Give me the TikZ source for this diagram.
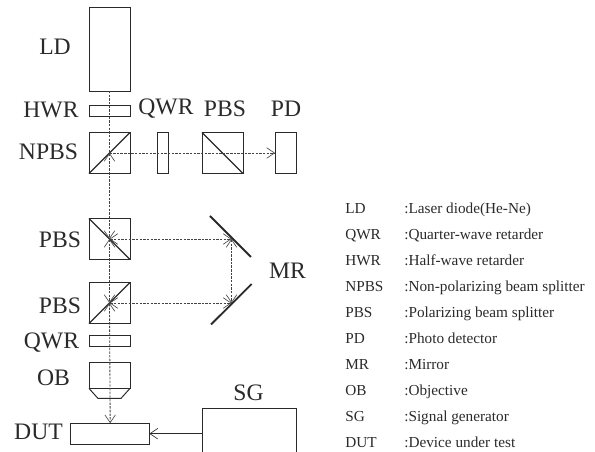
\documentclass[tikz,border=0pt]{standalone}
\usepackage{fontspec}
\setmainfont{Liberation Serif}
\usetikzlibrary{arrows.meta, positioning, calc}
\definecolor{lineDark}{HTML}{2A2A2A}
\definecolor{beamGray}{HTML}{444444}

\begin{document}
\begin{tikzpicture}[
    x=0.025cm, y=-0.025cm,
    part/.style={rectangle, draw=lineDark, line width=0.7pt, inner sep=0pt, outer sep=0pt},
    cube/.style={part, minimum size=1.025cm},
    plate/.style={part, minimum width=1.025cm, minimum height=0.275cm},
    label/.style={font=\fontsize{16.8}{18}\selectfont, text=lineDark, inner sep=0pt},
    legend/.style={font=\fontsize{10.85}{13}\selectfont, text=lineDark, inner sep=0pt, anchor=base west},
    beam/.style={dash pattern=on 1.7pt off 0.9pt, line width=0.6pt, draw=beamGray},
    tip/.style={-{Straight Barb[length=5.5pt, width=7.5pt, line width=0.45pt]}},
    tips/.style={{Straight Barb[length=5.5pt, width=7.5pt, line width=0.45pt]}-{Straight Barb[length=5.5pt, width=7.5pt, line width=0.45pt]}},
    split/.style={line width=0.8pt, draw=lineDark},
    mirror/.style={line width=1.3pt, draw=lineDark},
  ]
    \clip (0,0) rectangle (595,452);

    % ─── Source arm ───
    \node[part, minimum width=1.025cm, minimum height=2.075cm] (ld) at (109.5,49.5) {};
    \node[plate] (hwr) at (109.5,111) {};
    \node[cube] (npbs) at (109.5,153) {};
    \draw[split] (npbs.south west) -- (npbs.north east);

    % ─── Detector arm ───
    \node[part, minimum width=0.275cm, minimum height=1.025cm] (qwrtop) at (162.5,153) {};
    \node[cube] (pbstop) at (222.5,153) {};
    \draw[split] (pbstop.north west) -- (pbstop.south east);
    \node[part, minimum width=0.525cm, minimum height=1.025cm] (pd) at (285.5,153) {};

    % ─── Interferometer ───
    \node[cube] (pbsup) at (109.5,239) {};
    \draw[split] (pbsup.north west) -- (pbsup.south east);
    \node[cube] (pbslow) at (109.5,303) {};
    \draw[split] (pbslow.south west) -- (pbslow.north east);
    \coordinate (mrup) at (231.5,239);
    \coordinate (mrlow) at (231.5,303);
    \draw[mirror] (210,216) -- (251,257);
    \draw[mirror] (211,324.5) -- (251.7,284);

    % ─── Objective and sample ───
    \node[plate] (qwrlow) at (109.5,341) {};
    \node[part, minimum width=1.025cm, minimum height=0.66cm] (ob) at (109.5,375.2) {};
    \draw[part] (ob.south west) -- ++(9,10) -- ++(23,0) -- (ob.south east);
    \node[part, minimum width=1.96cm, minimum height=0.525cm] (dut) at (110.2,433.7) {};
    \node[part, minimum width=2.325cm, minimum height=1.27cm] (sg) at (249.5,433.7) {};

    % ─── Beams ───
    \draw[beam] (ld.south) -- (npbs.center);
    \draw[beam, tip] (npbs.center) -- (pd.west);
    \draw[beam, tips] (npbs.center) -- (pbsup.center);
    \draw[beam, tips] (pbsup.center) -- (pbslow.center);
    \draw[beam, tips] (pbsup.center) -- (mrup);
    \draw[beam, tips] (pbslow.center) -- (mrlow);
    \draw[beam, tips] (mrup) -- (mrlow);
    \draw[beam, tips] (pbslow.center) -- (dut.north);
    \draw[line width=0.6pt, draw=lineDark, tip] (sg.west) -- (dut.east);

    % ─── Part labels ───
    \node[label] (ldlabel) at (55,47) {LD};
    \node[label] (hwrlabel) at (51,110) {HWR};
    \node[label] (qwrtoplabel) at (166,109) {QWR};
    \node[label] (pbstoplabel) at (225,109) {PBS};
    \node[label] (pdlabel) at (286,109) {PD};
    \node[label] (npbslabel) at (48.5,152) {NPBS};
    \node[label] (pbsuplabel) at (60,240) {PBS};
    \node[label] (pbslowlabel) at (60,306) {PBS};
    \node[label] (mrlabel) at (287.5,271) {MR};
    \node[label] (qwrlowlabel) at (51.5,343) {QWR};
    \node[label] (oblabel) at (53.5,378) {OB};
    \node[label] (dutlabel) at (38.5,432) {DUT};
    \node[label] (sglabel) at (248.5,393) {SG};

    % ─── Legend ───
    \foreach \abbr/\desc [count=\i from 0] in {LD/Laser diode(He-Ne), QWR/Quarter-wave retarder,
      HWR/Half-wave retarder, NPBS/Non-polarizing beam splitter, PBS/Polarizing beam splitter,
      PD/Photo detector, MR/Mirror, OB/Objective, SG/Signal generator, DUT/Device under test}{
      \node[legend] (abbr\i) at (345, 213.3 + \i*26) {\abbr};
      \node[legend] (desc\i) at (404, 213.3 + \i*26) {:\desc};
    }
  \end{tikzpicture}
\end{document}
